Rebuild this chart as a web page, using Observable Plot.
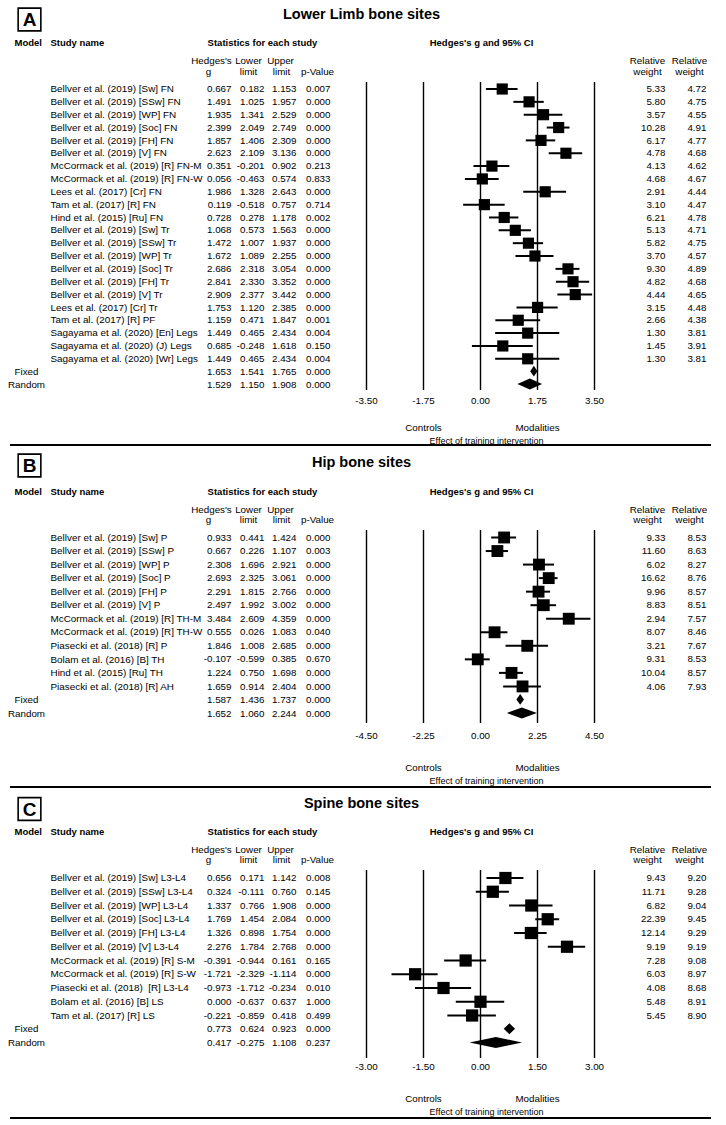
<!DOCTYPE html>
<html><head><meta charset="utf-8">
<script src="https://cdn.jsdelivr.net/npm/d3@7"></script>
<script src="https://cdn.jsdelivr.net/npm/@observablehq/plot@0.6"></script>
<style>
body{margin:0;background:#fff;}
#chart{width:726px;}
#chart svg{display:block;}
.sep{height:2px;background:#000;margin-left:10px;width:701px;}
</style>
</head><body><div id="chart"></div>
<script>
// ---------- Panel A: Lower limb ----------
const namesA = ["Bellver et al. (2019) [Sw] FN","Bellver et al. (2019) [SSw] FN","Bellver et al. (2019) [WP] FN","Bellver et al. (2019) [Soc] FN","Bellver et al. (2019) [FH] FN","Bellver et al. (2019) [V] FN","McCormack et al. (2019) [R] FN-M","McCormack et al. (2019) [R] FN-W","Lees et al. (2017) [Cr] FN","Tam et al. (2017) [R] FN","Hind et al. (2015) [Ru] FN","Bellver et al. (2019) [Sw] Tr","Bellver et al. (2019) [SSw] Tr","Bellver et al. (2019) [WP] Tr","Bellver et al. (2019) [Soc] Tr","Bellver et al. (2019) [FH] Tr","Bellver et al. (2019) [V] Tr","Lees et al. (2017) [Cr] Tr","Tam et al. (2017) [R] PF","Sagayama et al. (2020) [En] Legs","Sagayama et al. (2020) (J) Legs","Sagayama et al. (2020) [Wr] Legs"];
const gA = [0.667,1.491,1.935,2.399,1.857,2.623,0.351,0.056,1.986,0.119,0.728,1.068,1.472,1.672,2.686,2.841,2.909,1.753,1.159,1.449,0.685,1.449];
const lowerA = [0.182,1.025,1.341,2.049,1.406,2.109,-0.201,-0.463,1.328,-0.518,0.278,0.573,1.007,1.089,2.318,2.330,2.377,1.120,0.471,0.465,-0.248,0.465];
const upperA = [1.153,1.957,2.529,2.749,2.309,3.136,0.902,0.574,2.643,0.757,1.178,1.563,1.937,2.255,3.054,3.352,3.442,2.385,1.847,2.434,1.618,2.434];
const pA = ["0.007","0.000","0.000","0.000","0.000","0.000","0.213","0.833","0.000","0.714","0.002","0.000","0.000","0.000","0.000","0.000","0.000","0.000","0.001","0.004","0.150","0.004"];
const wFixedA = [5.33,5.80,3.57,10.28,6.17,4.78,4.13,4.68,2.91,3.10,6.21,5.13,5.82,3.70,9.30,4.82,4.44,3.15,2.66,1.30,1.45,1.30];
const wRandomA = [4.72,4.75,4.55,4.91,4.77,4.68,4.62,4.67,4.44,4.47,4.78,4.71,4.75,4.57,4.89,4.68,4.65,4.48,4.38,3.81,3.91,3.81];
const summaryA = [{name:"Fixed",g:1.653,lo:1.541,hi:1.765,p:"0.000"},{name:"Random",g:1.529,lo:1.150,hi:1.908,p:"0.000"}];
const ticksA = [-3.5,-1.75,0,1.75,3.5];

// ---------- Panel B: Hip ----------
const namesB = ["Bellver et al. (2019) [Sw] P","Bellver et al. (2019) [SSw] P","Bellver et al. (2019) [WP] P","Bellver et al. (2019) [Soc] P","Bellver et al. (2019) [FH] P","Bellver et al. (2019) [V] P","McCormack et al. (2019) [R] TH-M","McCormack et al. (2019) [R] TH-W","Piasecki et al. (2018) [R] P","Bolam et al. (2016) [B] TH","Hind et al. (2015) [Ru] TH","Piasecki et al. (2018) [R] AH"];
const gB = [0.933,0.667,2.308,2.693,2.291,2.497,3.484,0.555,1.846,-0.107,1.224,1.659];
const lowerB = [0.441,0.226,1.696,2.325,1.815,1.992,2.609,0.026,1.008,-0.599,0.750,0.914];
const upperB = [1.424,1.107,2.921,3.061,2.766,3.002,4.359,1.083,2.685,0.385,1.698,2.404];
const pB = ["0.000","0.003","0.000","0.000","0.000","0.000","0.000","0.040","0.000","0.670","0.000","0.000"];
const wFixedB = [9.33,11.60,6.02,16.62,9.96,8.83,2.94,8.07,3.21,9.31,10.04,4.06];
const wRandomB = [8.53,8.63,8.27,8.76,8.57,8.51,7.57,8.46,7.67,8.53,8.57,7.93];
const summaryB = [{name:"Fixed",g:1.587,lo:1.436,hi:1.737,p:"0.000"},{name:"Random",g:1.652,lo:1.060,hi:2.244,p:"0.000"}];
const ticksB = [-4.5,-2.25,0,2.25,4.5];

// ---------- Panel C: Spine ----------
const namesC = ["Bellver et al. (2019) [Sw] L3-L4","Bellver et al. (2019) [SSw] L3-L4","Bellver et al. (2019) [WP] L3-L4","Bellver et al. (2019) [Soc] L3-L4","Bellver et al. (2019) [FH] L3-L4","Bellver et al. (2019) [V] L3-L4","McCormack et al. (2019) [R] S-M","McCormack et al. (2019) [R] S-W","Piasecki et al. (2018)  [R] L3-L4","Bolam et al. (2016) [B] LS","Tam et al. (2017) [R] LS"];
const gC = [0.656,0.324,1.337,1.769,1.326,2.276,-0.391,-1.721,-0.973,0.000,-0.221];
const lowerC = [0.171,-0.111,0.766,1.454,0.898,1.784,-0.944,-2.329,-1.712,-0.637,-0.859];
const upperC = [1.142,0.760,1.908,2.084,1.754,2.768,0.161,-1.114,-0.234,0.637,0.418];
const pC = ["0.008","0.145","0.000","0.000","0.000","0.000","0.165","0.000","0.010","1.000","0.499"];
const wFixedC = [9.43,11.71,6.82,22.39,12.14,9.19,7.28,6.03,4.08,5.48,5.45];
const wRandomC = [9.20,9.28,9.04,9.45,9.29,9.19,9.08,8.97,8.68,8.91,8.90];
const summaryC = [{name:"Fixed",g:0.773,lo:0.624,hi:0.923,p:"0.000"},{name:"Random",g:0.417,lo:-0.275,hi:1.108,p:"0.237"}];
const ticksC = [-3,-1.5,0,1.5,3];

const FONT = "'Liberation Sans', Arial, Helvetica, sans-serif";
const FS = 9.8;      // numbers / headers
const FN = 9.9;      // study names

function buildPanel(P) {
  const n = P.names.length;
  const rows = P.names.map((name, i) => ({i, name, g: P.g[i], lo: P.lo[i], hi: P.hi[i], p: P.p[i], wf: P.wf[i], wr: P.wr[i]}));
  const sums = P.summary.map((s, k) => ({i: n + k, name: s.name, g: s.g, lo: s.lo, hi: s.hi, p: s.p}));
  const all = rows.concat(sums);
  const L = P.layout, T = L.top;
  const mt = L.lineTop - T, mb = L.height - (L.lineBottom - T);
  const sp = (L.rowN - L.row0) / (n + 1);
  const h = 5.4 / sp;
  const dia = sums.flatMap(s => [
    {k: s.name, x: s.lo, y1: s.i, y2: s.i},
    {k: s.name, x: s.g, y1: s.i - h, y2: s.i + h},
    {k: s.name, x: s.hi, y1: s.i, y2: s.i}
  ]);
  const at = y => y - L.lineTop;
  const lab = (txt, x, y, o = {}) => Plot.text([txt], {
    text: d => d, frameAnchor: "top-left", dx: x, dy: at(y), lineAnchor: "middle",
    textAnchor: o.anchor || "middle", fontSize: o.size || FS, fontWeight: o.weight || "normal",
    ariaLabel: o.aria || "label", fill: "black"
  });
  const col = (data, fn, x) => Plot.text(data, {y: "i", text: fn, frameAnchor: "left", dx: x, textAnchor: "end", fill: "black", fontSize: FS});
  const sides = [{x: P.ticks[1], t: "Controls"}, {x: P.ticks[3], t: "Modalities"}];

  const svg = Plot.plot({
    width: 726, height: L.height,
    marginTop: mt, marginBottom: mb, marginLeft: 0, marginRight: 0,
    x: {domain: P.domain, range: [366, 594]},
    y: {domain: [0, n + 1], range: [L.row0 - T, L.rowN - T], axis: null},
    style: {fontFamily: FONT, fontSize: FS + "px", color: "black", background: "white", overflow: "visible"},
    marks: [
      Plot.ruleX(P.ticks, {stroke: "black", strokeWidth: 1.4}),
      Plot.ruleY(rows, {y: "i", x1: "lo", x2: "hi", stroke: "black", strokeWidth: 2}),
      Plot.dot(rows, {x: "g", y: "i", symbol: "square", r: L.r, fill: "black"}),
      Plot.areaY(dia, {x: "x", y1: "y1", y2: "y2", z: "k", fill: "black", curve: "linear"}),
      Plot.axisX({ticks: P.ticks, tickFormat: d => d.toFixed(2), tickSize: 0, tickPadding: L.tickPad, anchor: "bottom", label: null, fontSize: FS, fill: "black"}),
      // table
      Plot.text(rows, {y: "i", text: "name", frameAnchor: "left", dx: 50, textAnchor: "start", fill: "black", fontSize: FN}),
      Plot.text(sums, {y: "i", text: "name", frameAnchor: "left", dx: 26, textAnchor: "middle", fill: "black", fontSize: FS}),
      col(all, d => d.g.toFixed(3), 231),
      col(all, d => d.lo.toFixed(3), 264),
      col(all, d => d.hi.toFixed(3), 296),
      col(all, d => d.p, 330),
      col(rows, d => d.wf.toFixed(2), 665),
      col(rows, d => d.wr.toFixed(2), 706),
      // header
      Plot.dot([0], {frameAnchor: "top-left", dx: 29, dy: at(L.box), symbol: "square", r: 12.8, stroke: "black", strokeWidth: 1.6, fill: "none"}),
      lab(P.letter, 29, L.box + 0.5, {size: 19, weight: "bold"}),
      lab(P.title, 361, L.title, {size: 14.5, weight: "bold"}),
      lab("Model", 14, L.hdr, {anchor: "start", weight: "bold", aria: "hdr", size: 9.5}),
      lab("Study name", 50, L.hdr, {anchor: "start", weight: "bold", aria: "hdr", size: 9.5}),
      lab("Statistics for each study", 262, L.hdr, {weight: "bold", aria: "hdr", size: 9.5}),
      lab("Hedges's g and 95% CI", 481, L.hdr, {weight: "bold", aria: "hdr", size: 9.5}),
      lab("Hedges's", 211, L.sub1), lab("g", 208, L.sub2),
      lab("Lower", 248, L.sub1), lab("limit", 248, L.sub2),
      lab("Upper", 280, L.sub1), lab("limit", 281, L.sub2),
      lab("p-Value", 317, L.sub2),
      lab("Relative", 647, L.sub1), lab("weight", 647, L.sub2),
      lab("Relative", 689, L.sub1), lab("weight", 689, L.sub2),
      Plot.text(sides, {x: "x", text: "t", frameAnchor: "top", dy: at(L.controls), lineAnchor: "middle", fill: "black", fontSize: FS}),
      lab("Effect of training intervention", 486, L.effect, {size: 9})
    ]
  });
  svg.querySelectorAll('g[aria-label="hdr"] text').forEach(t => t.setAttribute("text-decoration", "underline"));
  return svg;
}

const panels = [
  {letter: "A", title: "Lower Limb bone sites", names: namesA, g: gA, lo: lowerA, hi: upperA, p: pA, wf: wFixedA, wr: wRandomA, summary: summaryA, domain: [-3.5, 3.5], ticks: ticksA,
   layout: {top: 0, height: 444, box: 19, title: 14, hdr: 42, sub1: 60, sub2: 71, row0: 88.5, rowN: 384, lineTop: 82, lineBottom: 390, tickPad: 6.5, controls: 427, effect: 441, r: 6.3}},
  {letter: "B", title: "Hip bone sites", names: namesB, g: gB, lo: lowerB, hi: upperB, p: pB, wf: wFixedB, wr: wRandomB, summary: summaryB, domain: [-4.5, 4.5], ticks: ticksB,
   layout: {top: 446, height: 340, box: 465, title: 462, hdr: 491, sub1: 509, sub2: 519.5, row0: 537, rowN: 713, lineTop: 530, lineBottom: 723, tickPad: 8.5, controls: 767, effect: 781, r: 6.7}},
  {letter: "C", title: "Spine bone sites", names: namesC, g: gC, lo: lowerC, hi: upperC, p: pC, wf: wFixedC, wr: wRandomC, summary: summaryC, domain: [-3, 3], ticks: ticksC,
   layout: {top: 788, height: 329, box: 808.5, title: 803, hdr: 831, sub1: 849, sub2: 859, row0: 877.5, rowN: 1042.5, lineTop: 870, lineBottom: 1058, tickPad: 4.5, controls: 1098, effect: 1112, r: 6.9}}
];

const chart = document.getElementById("chart");
panels.forEach(P => {
  chart.appendChild(buildPanel(P));
  const sep = document.createElement("div");
  sep.className = "sep";
  chart.appendChild(sep);
});
</script>
</body></html>
